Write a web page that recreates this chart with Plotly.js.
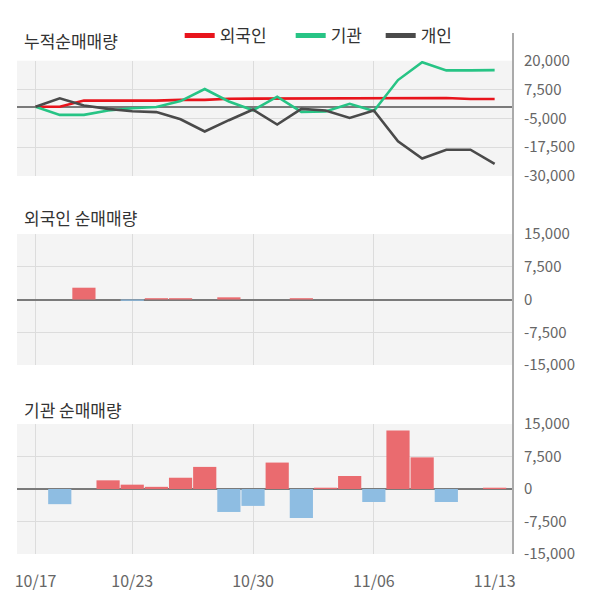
<!DOCTYPE html>
<html>
<head>
<meta charset="utf-8">
<script src="https://cdn.plot.ly/plotly-3.0.1.min.js"></script>
<style>
  body { margin: 0; background: #fff; }
  #chart { width: 600px; height: 604px; }
</style>
</head>
<body>
<div id="chart"></div>
<script>
// trading days
var dates = ["10/17", "10/18", "10/21", "10/22", "10/23", "10/24", "10/25", "10/28", "10/29", "10/30",
             "10/31", "11/01", "11/04", "11/05", "11/06", "11/07", "11/08", "11/11", "11/12", "11/13"];

// cumulative net buying (top panel)
var foreignCum = [0, 0, 2700, 2700, 2400, 2700, 3000, 3000, 3500, 3500,
                  3500, 3800, 3800, 3800, 3800, 3800, 3800, 3800, 3400, 3400];
var instCum = [0, -3500, -3500, -1600, -600, -100, 2500, 7700, 2300, -1500,
               4400, -2200, -2000, 1300, -1800, 11600, 19300, 15800, 15800, 15900];
var indivCum = [0, 3700, 600, -900, -1900, -2300, -5400, -10700, -5800, -1200,
                -7700, -900, -1600, -4800, -1600, -15000, -22400, -18600, -18600, -24700];

// daily net buying
var foreignNet = [0, 0, 2700, 0, -300, 300, 300, 0, 500, 0,
                  0, 300, 0, 0, 0, 0, 0, 0, 0, 0];
var instNet = [0, -3500, 0, 2000, 1000, 500, 2600, 5100, -5300, -3900,
               6100, -6700, 300, 3000, -3000, 13500, 7300, -3000, 0, 300];

var labelDates = ["10/17", "10/23", "10/30", "11/06", "11/13"];
var gridDates = ["10/17", "10/23", "10/30", "11/06"];

var cumTicks = [20000, 7500, -5000, -17500, -30000];
var cumTickText = ["20,000", "7,500", "-5,000", "-17,500", "-30,000"];
var netTicks = [15000, 7500, 0, -7500, -15000];
var netTickText = ["15,000", "7,500", "0", "-7,500", "-15,000"];

var RED = "#e8141c", GREEN = "#27c485", DARK = "#4a4a4a";
var BAR_UP = "#ea6b6f", BAR_DOWN = "#8ebde2";
var FONT = "Noto Sans CJK KR, Noto Sans, sans-serif";

var xs = dates.map(function (d, i) { return i; });
var idx = function (d) { return dates.indexOf(d); };
var barColors = function (arr) {
  return arr.map(function (v) { return v >= 0 ? BAR_UP : BAR_DOWN; });
};

function line(y, color) {
  return { x: xs, y: y, mode: "lines", xaxis: "x", yaxis: "y", showlegend: false,
           line: { color: color, width: 2.6 }, hoverinfo: "skip" };
}
function legendItem(name, color, w) {
  return { x: [null], y: [null], mode: "lines", xaxis: "x", yaxis: "y", name: name,
           legendwidth: w, line: { color: color, width: 5 } };
}

var traces = [
  line(foreignCum, RED),
  line(instCum, GREEN),
  line(indivCum, DARK),
  legendItem("외국인", RED, 66),
  legendItem("기관", GREEN, 45),
  legendItem("개인", DARK, 40),
  { x: xs, y: foreignNet, type: "bar", xaxis: "x2", yaxis: "y2", showlegend: false,
    marker: { color: barColors(foreignNet) }, hoverinfo: "skip" },
  { x: xs, y: instNet, type: "bar", xaxis: "x3", yaxis: "y3", showlegend: false,
    marker: { color: barColors(instNet) }, hoverinfo: "skip" }
];

var xRange = [-0.77, 19.76];
function xAxis(anchor, showLabels) {
  return {
    anchor: anchor, domain: [0, 1], range: xRange, fixedrange: true,
    showgrid: false, zeroline: false, showline: false,
    tickvals: labelDates.map(idx), ticktext: labelDates,
    showticklabels: showLabels, ticks: showLabels ? "outside" : "",
    ticklen: 13, tickcolor: "rgba(0,0,0,0)",
    tickfont: { family: FONT, size: 16, color: "#666" },
    minor: { tickvals: gridDates.map(idx), showgrid: true, gridcolor: "#dcdcdc", gridwidth: 1, ticks: "" }
  };
}
function yAxis(anchor, domain, range, vals, text) {
  return {
    anchor: anchor, domain: domain, range: range, side: "right", fixedrange: true,
    tickvals: vals, ticktext: text, ticks: "", ticklabelstandoff: 10,
    tickfont: { family: FONT, size: 15, color: "#666" },
    showgrid: true, gridcolor: "#dcdcdc", gridwidth: 1,
    zeroline: true, zerolinecolor: "#7a7a7a", zerolinewidth: 2, showline: false
  };
}

var H = 604;
var dom = function (top, bottom) { return [(H - bottom) / H, (H - top) / H]; };

var layout = {
  width: 600, height: 604,
  margin: { l: 17, r: 87, t: 0, b: 0 },
  paper_bgcolor: "#fff", plot_bgcolor: "#f4f4f4",
  font: { family: FONT, color: "#333" },
  hovermode: false, bargap: 0.04,
  showlegend: true,
  legend: { orientation: "h", x: 0.328, xanchor: "left", y: (H - 36) / H, yanchor: "middle",
            font: { family: FONT, size: 17, color: "#333" }, bgcolor: "rgba(0,0,0,0)",
            itemclick: false, itemdoubleclick: false },
  xaxis: xAxis("y", false),
  xaxis2: xAxis("y2", false),
  xaxis3: xAxis("y3", true),
  yaxis: yAxis("x", dom(60.7, 176), [-30000, 20000], cumTicks, cumTickText),
  yaxis2: yAxis("x2", dom(234, 365), [-15000, 15000], netTicks, netTickText),
  yaxis3: yAxis("x3", dom(424, 554), [-15000, 15000], netTicks, netTickText),
  shapes: [
    { type: "line", xref: "paper", yref: "paper", x0: 1, x1: 1,
      y0: (H - 554) / H, y1: (H - 33) / H, line: { color: "#aaa", width: 2 } }
  ],
  annotations: [
    { text: "누적순매매량", y: (H - 41) / H },
    { text: "외국인 순매매량", y: (H - 218) / H },
    { text: "기관 순매매량", y: (H - 409) / H }
  ].map(function (a) {
    return { text: a.text, xref: "paper", yref: "paper", x: 5 / 496, y: a.y,
             xanchor: "left", yanchor: "middle", showarrow: false,
             font: { family: FONT, size: 17, color: "#333" } };
  })
};

Plotly.newPlot("chart", traces, layout, { displayModeBar: false, staticPlot: true });
</script>
</body>
</html>
